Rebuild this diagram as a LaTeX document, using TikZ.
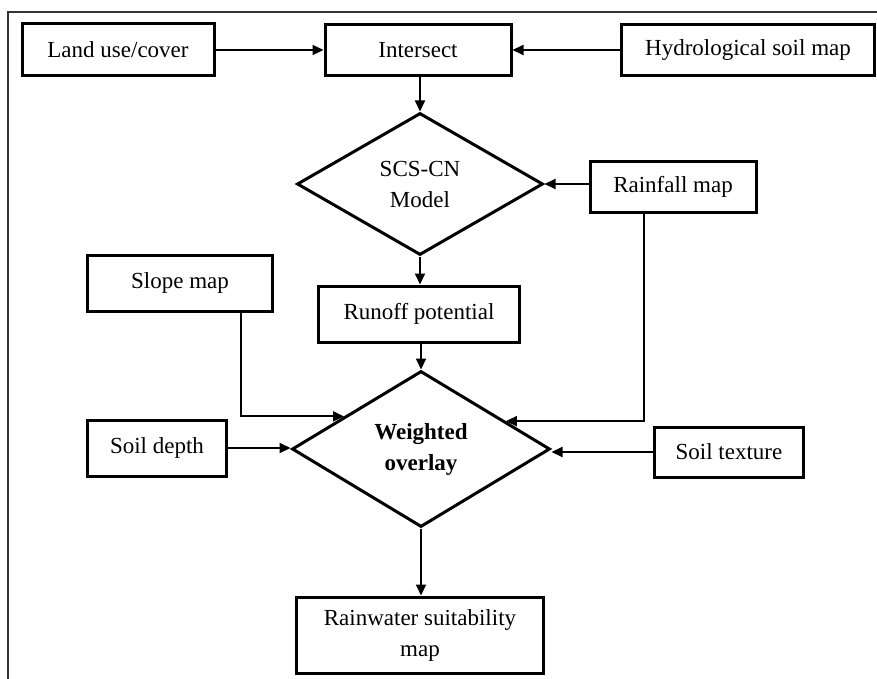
\documentclass[tikz,border=0pt]{standalone}
\usepackage{fontspec}
\setmainfont{Liberation Serif}
\usetikzlibrary{shapes.geometric,arrows.meta,calc}
\tikzset{
  procbox/.style={draw,line width=3pt,align=center,inner sep=2pt,font=\fontsize{23}{31}\selectfont},
  decision/.style={draw,diamond,line width=3pt,align=center,inner sep=0pt,font=\fontsize{23}{31}\selectfont},
  arr/.style={line width=2pt,-{Triangle[length=11pt,width=10pt]}}
}
\begin{document}
\begin{tikzpicture}[x=1pt,y=-1pt]
  \useasboundingbox (0,0) rectangle (877,679);
  \draw[line width=1.3pt,black!80] (877,12) -- (8,12) -- (8,679);
  % top row
  \node[procbox,minimum width=192,minimum height=52] (land) at (118,50) {Land use/cover};
  \node[procbox,minimum width=186,minimum height=51] (inter) at (418,50) {Intersect};
  \node[procbox,minimum width=253,minimum height=51] (hydro) at (748,50) {Hydrological soil map};
  % model
  \node[decision,minimum width=246,minimum height=142] (scs) at (420,184) {SCS-CN\\Model};
  \node[procbox,minimum width=166,minimum height=50] (rain) at (673,187) {Rainfall map};
  \node[procbox,minimum width=185,minimum height=56] (slope) at (180,283) {Slope map};
  \node[procbox,minimum width=201,minimum height=56] (runoff) at (419,314) {Runoff potential};
  % overlay
  \node[decision,minimum width=258,minimum height=156] (wo) at (421,449) {\textbf{Weighted}\\\textbf{overlay}};
  \node[procbox,minimum width=139,minimum height=56] (depth) at (157,448) {Soil depth};
  \node[procbox,minimum width=149,minimum height=50] (texture) at (729,452) {Soil texture};
  \node[procbox,minimum width=247,minimum height=76] (suit) at (420,635) {Rainwater suitability\\map};
  % connectors
  \draw[arr] (land.east) -- (inter.west);
  \draw[arr] (hydro.west) -- (inter.east);
  \draw[arr] (scs.north |- inter.south) -- (scs.north);
  \draw[arr] (rain.west |- scs.east) -- (scs.east);
  \draw[arr] (scs.south) -- (scs.south |- runoff.north);
  \draw[arr] (wo.north |- runoff.south) -- (wo.north);
  \draw[arr] ([xshift=61pt]slope.south) |- ($(wo.west)!0.41!(wo.north)$);
  \draw[arr] ([xshift=-29pt]rain.south) |- ($(wo.east)!0.35!(wo.north)$);
  \draw[arr] (depth.east) -- (depth.east -| wo.west);
  \draw[arr] (texture.west) -- (texture.west -| wo.east);
  \draw[arr] (wo.south) -- (wo.south |- suit.north);
\end{tikzpicture}
\end{document}
